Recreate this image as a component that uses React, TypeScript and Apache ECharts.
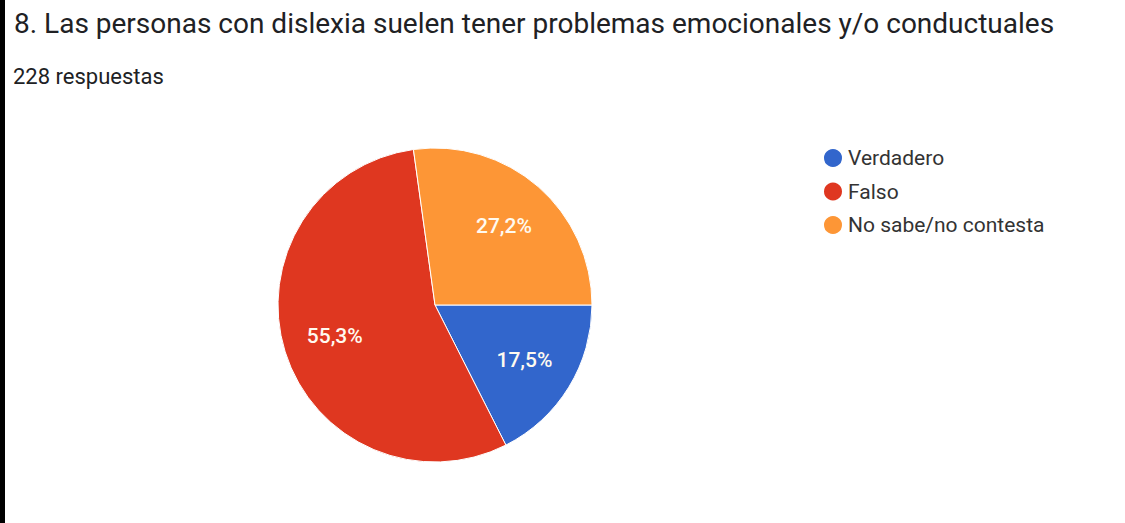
import React, { useEffect, useRef } from "react";
import * as echarts from "echarts";

const titleText = "8. Las personas con dislexia suelen tener problemas emocionales y/o conductuales";
const subtitleText = "228 respuestas";
const categories = ["Verdadero", "Falso", "No sabe/no contesta"];
const counts = [40, 126, 62];
const colors = ["#3266cc", "#df3720", "#fd9636"];

const W = 1125;
const H = 523;
const CX = 435;
const CY = 305;
const R = 157;
const LABEL_R = 105;
const FONT = "Roboto, 'Liberation Sans', Arial, sans-serif";

export default function App() {
  const ref = useRef<HTMLDivElement>(null);
  useEffect(() => {
    if (!ref.current) return;
    const chart = echarts.init(ref.current, undefined, { renderer: "svg" });
    const total = counts.reduce((a, b) => a + b, 0);
    const fmt = (v: number) => ((v / total) * 100).toFixed(1).replace(".", ",") + "%";
    chart.setOption({
      animation: false,
      backgroundColor: "#ffffff",
      title: [
        {
          text: titleText,
          left: 9,
          top: 4,
          textStyle: { fontFamily: FONT, fontSize: 28, fontWeight: "normal", color: "#202124" },
        },
        {
          text: subtitleText,
          left: 8,
          top: 60,
          textStyle: { fontFamily: FONT, fontSize: 22, fontWeight: "normal", color: "#202124" },
        },
      ],
      legend: {
        orient: "vertical",
        left: 817,
        top: 142,
        icon: "circle",
        itemWidth: 20,
        itemHeight: 20,
        itemGap: 11.5,
        data: categories,
        textStyle: { fontFamily: FONT, fontSize: 21, lineHeight: 20, color: "#333333" },
      },
      color: colors,
      series: [
        {
          type: "pie",
          center: [CX, CY],
          radius: R,
          startAngle: 0,
          clockwise: true,
          silent: true,
          itemStyle: { borderColor: "#ffffff", borderWidth: 1 },
          label: {
            show: true,
            position: "inside",
            color: "#fffaf0",
            fontSize: 21,
            fontWeight: 500,
            fontFamily: FONT,
            formatter: (p: any) => fmt(p.value),
          },
          labelLine: { show: false },
          labelLayout: (p: any) => {
            const i = p.dataIndex;
            let cum = 0;
            for (let k = 0; k < i; k++) cum += counts[k];
            const th = ((cum + counts[i] / 2) / total) * Math.PI * 2;
            return { x: CX + LABEL_R * Math.cos(th), y: CY + LABEL_R * Math.sin(th) };
          },
          data: categories.map((c, i) => ({ name: c, value: counts[i] })),
        },
      ],
    });
    return () => chart.dispose();
  }, []);
  return (
    <div style={{ position: "absolute", left: 0, top: 0, width: W, height: H, background: "#fff" }}>
      <div ref={ref} style={{ position: "absolute", left: 0, top: 0, width: W, height: H }} />
      <div style={{ position: "absolute", left: 0, top: 0, width: 5, height: H, background: "#000" }} />
    </div>
  );
}
